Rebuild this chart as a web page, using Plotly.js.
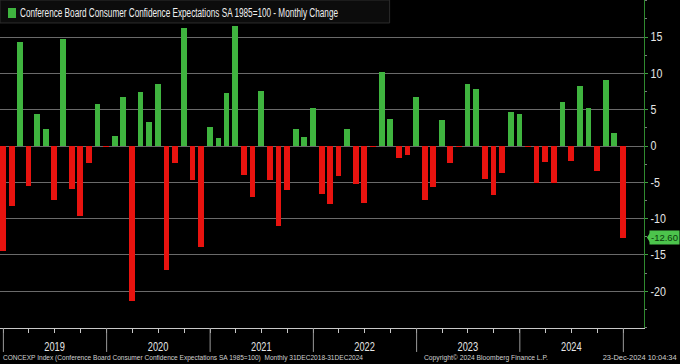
<!DOCTYPE html>
<html>
<head>
<meta charset="utf-8">
<script src="https://cdn.plot.ly/plotly-3.0.1.min.js"></script>
<style>
html,body{margin:0;padding:0;background:#000;}
#chart{width:680px;height:364px;}
</style>
</head>
<body>
<div id="chart"></div>
<script>
// Monthly periods (bars are drawn at each month's end, Bloomberg-style)
var months = [
  '2018-12',
  '2019-01','2019-02','2019-03','2019-04','2019-05','2019-06','2019-07','2019-08','2019-09','2019-10','2019-11','2019-12',
  '2020-01','2020-02','2020-03','2020-04','2020-05','2020-06','2020-07','2020-08','2020-09','2020-10','2020-11','2020-12',
  '2021-01','2021-02','2021-03','2021-04','2021-05','2021-06','2021-07','2021-08','2021-09','2021-10','2021-11','2021-12',
  '2022-01','2022-02','2022-03','2022-04','2022-05','2022-06','2022-07','2022-08','2022-09','2022-10','2022-11','2022-12',
  '2023-01','2023-02','2023-03','2023-04','2023-05','2023-06','2023-07','2023-08','2023-09','2023-10','2023-11','2023-12',
  '2024-01','2024-02','2024-03','2024-04','2024-05','2024-06','2024-07','2024-08','2024-09','2024-10','2024-11','2024-12'
];

// Monthly change of the Expectations index
var monthlyChange = [
  -14.4,
  -8.2, 14.3, -5.45, 4.35, 2.3, -7.4, 14.8, -5.9, -9.6, -2.4, 5.8, -0.2,
  1.4, 6.7, -21.3, 7.5, 3.3, 8.5, -17.1, -2.4, 16.3, -4.7, -13.9, 2.65,
  1.1, 7.25, 16.5, -4.0, -7.0, 7.6, -4.7, -11.0, -6.1, 2.3, 1.25, 5.2,
  -6.6, -8.0, -4.1, 2.3, -5.2, -7.9, -0.2, 10.2, 3.7, -1.6, -1.3, 6.7,
  -7.4, -5.6, 3.6, -2.3, -0.2, 8.5, 7.9, -4.6, -6.8, -3.7, 4.7, 4.45,
  -0.2, -5.1, -2.2, -5.1, 6.1, -2.0, 8.25, 5.2, -3.4, 9.1, 1.75, -12.6
];

var yearLabels = ['2019','2020','2021','2022','2023','2024'];
var yearStarts = ['2019-01-01','2020-01-01','2021-01-01','2022-01-01','2023-01-01','2024-01-01','2025-01-01'];
var yTickVals = [-20, -15, -10, -5, 0, 5, 10, 15];
var yTickText = ['-20', '-15', '-10', '-5', '0', '5', '10', '15'];

var lastValueLabel = '-12.60';
var legendText = 'Conference Board Consumer Confidence Expectations SA 1985=100 - Monthly Change';
var footerLeft = 'CONCEXP Index (Conference Board Consumer Confidence Expectations SA 1985=100)  Monthly 31DEC2018-31DEC2024';
var footerMid = 'Copyright\u00A9 2024 Bloomberg Finance L.P.';
var footerRight = '23-Dec-2024 10:04:34';

var GREEN = '#3fb43f';
var RED = '#e8130f';
var FONT = '"Liberation Sans", Arial, sans-serif';

function monthEnd(ym) {
  var p = ym.split('-');
  var d = new Date(Date.UTC(+p[0], +p[1], 0));
  return d.toISOString().slice(0, 10);
}
var xDates = months.map(monthEnd);
var barColors = monthlyChange.map(function (v) { return v >= 0 ? GREEN : RED; });
var lastValue = monthlyChange[monthlyChange.length - 1];

var trace = {
  type: 'bar',
  x: xDates,
  y: monthlyChange,
  width: 1.75e9,
  marker: { color: barColors, line: { width: 0 } },
  hoverinfo: 'x+y',
  showlegend: false
};

var shapes = [];
yearStarts.forEach(function (d) {
  shapes.push({
    type: 'line', xref: 'x', yref: 'paper',
    x0: d, x1: d, y0: 0, y1: -0.073,
    line: { color: '#9a9a9a', width: 1 }
  });
});
// legend box and swatch
shapes.push({
  type: 'rect', xref: 'paper', yref: 'paper',
  x0: 0, x1: 0.605, y0: 0.93, y1: 1.0,
  fillcolor: '#0c0c0c', line: { color: '#2c2c2c', width: 1 }, layer: 'above'
});
shapes.push({
  type: 'rect', xref: 'paper', yref: 'paper',
  x0: 8 / 644, x1: 16 / 644, y0: 1 - 18 / 328, y1: 1 - 8 / 328,
  fillcolor: GREEN, line: { width: 0 }, layer: 'above'
});
// last value tag pointer
shapes.push({
  type: 'path', xref: 'paper', yref: 'y',
  path: 'M 1.0045 ' + lastValue + ' L 1.0115 ' + (lastValue + 0.95) + ' L 1.0115 ' + (lastValue - 0.95) + ' Z',
  fillcolor: '#4cc44c', line: { width: 0 }
});

// target drawn widths (px) for the condensed Bloomberg-style texts
var condensed = [318, 0, 360, 124, 74];

var annotations = [
  {
    xref: 'paper', yref: 'paper', x: 18 / 644, y: 1 - 13 / 328,
    xanchor: 'left', yanchor: 'middle', showarrow: false, align: 'left',
    text: legendText, font: { family: FONT, size: 12, color: '#f0f0f0' }
  },
  {
    xref: 'paper', yref: 'y', x: 1, y: lastValue, xshift: 5,
    xanchor: 'left', yanchor: 'middle', showarrow: false,
    text: lastValueLabel, bgcolor: '#4cc44c', borderpad: 1,
    font: { family: FONT, size: 9.5, color: '#0b3a0b' }
  },
  {
    xref: 'paper', yref: 'paper', x: 1 / 644, y: -29.5 / 328,
    xanchor: 'left', yanchor: 'middle', showarrow: false, align: 'left',
    text: footerLeft, font: { family: FONT, size: 7.5, color: '#d0d0d0' }
  },
  {
    xref: 'paper', yref: 'paper', x: 422 / 644, y: -29.5 / 328,
    xanchor: 'left', yanchor: 'middle', showarrow: false, align: 'left',
    text: footerMid, font: { family: FONT, size: 7.5, color: '#d0d0d0' }
  },
  {
    xref: 'paper', yref: 'paper', x: 679 / 644, y: -29.5 / 328,
    xanchor: 'right', yanchor: 'middle', showarrow: false, align: 'right',
    text: footerRight, font: { family: FONT, size: 7.5, color: '#d0d0d0' }
  }
];

var layout = {
  width: 680, height: 364,
  margin: { l: 0, r: 36, t: 0, b: 36, pad: 0 },
  paper_bgcolor: '#000', plot_bgcolor: '#000',
  showlegend: false,
  bargap: 0,
  font: { family: FONT, color: '#e0e0e0' },
  xaxis: {
    type: 'date',
    range: ['2018-12-20', '2025-03-15'],
    showgrid: false, zeroline: false,
    showline: true, linecolor: '#c8c8c8', linewidth: 1,
    tickmode: 'array',
    tickvals: yearLabels.map(function (y) { return y + '-07-01'; }),
    ticktext: yearLabels,
    ticks: 'outside', ticklen: 4, tickcolor: '#c8c8c8', tickwidth: 1,
    ticklabelstandoff: 3,
    tickfont: { family: FONT, size: 12.5, color: '#e6e6e6' },
    minor: { tickmode: 'linear', tick0: '2019-01-01', dtick: 'M3', ticks: 'outside', ticklen: 4, tickcolor: '#c8c8c8', showgrid: false },
    fixedrange: true
  },
  yaxis: {
    side: 'right',
    range: [-25.05, 20.1],
    tickmode: 'array', tickvals: yTickVals, ticktext: yTickText,
    showgrid: true, gridcolor: '#6a6a6a', gridwidth: 1,
    zeroline: false,
    showline: true, linecolor: '#2f8a2f', linewidth: 1,
    ticks: 'outside', ticklen: 3, tickcolor: '#3fa03f',
    tickfont: { family: FONT, size: 12.5, color: '#e6e6e6' },
    minor: { tickmode: 'linear', tick0: 0, dtick: 2.5, ticks: 'outside', ticklen: 2, tickcolor: '#7a7a7a', showgrid: false },
    fixedrange: true
  },
  shapes: shapes,
  annotations: annotations
};

function condense() {
  var gd = document.getElementById('chart');
  var annTexts = gd.querySelectorAll('.annotation-text');
  annTexts.forEach(function (t, i) {
    var w = condensed[i];
    if (w) {
      var a = annotations[i];
      var len = t.getComputedTextLength();
      var x = parseFloat(t.getAttribute('x')) || 0;
      var anchor = t.getAttribute('text-anchor') || 'middle';
      if (a.align === 'left' && anchor === 'middle') {
        t.setAttribute('text-anchor', 'start');
        t.setAttribute('x', (x - len / 2).toFixed(2));
      } else if (a.align === 'right' && anchor === 'middle') {
        t.setAttribute('text-anchor', 'end');
        t.setAttribute('x', (x + len / 2).toFixed(2));
      }
      t.setAttribute('textLength', Math.min(w, len));
      t.setAttribute('lengthAdjust', 'spacingAndGlyphs');
    }
  });
  gd.querySelectorAll('.xtick text').forEach(function (t) {
    var len = t.getComputedTextLength();
    t.setAttribute('textLength', (len * 0.74).toFixed(1));
    t.setAttribute('lengthAdjust', 'spacingAndGlyphs');
  });
  gd.querySelectorAll('.ytick text').forEach(function (t) {
    var len = t.getComputedTextLength();
    t.setAttribute('textLength', (len * 0.85).toFixed(1));
    t.setAttribute('lengthAdjust', 'spacingAndGlyphs');
  });
}

Plotly.newPlot('chart', [trace], layout, { displayModeBar: false, staticPlot: true }).then(condense);
</script>
</body>
</html>
